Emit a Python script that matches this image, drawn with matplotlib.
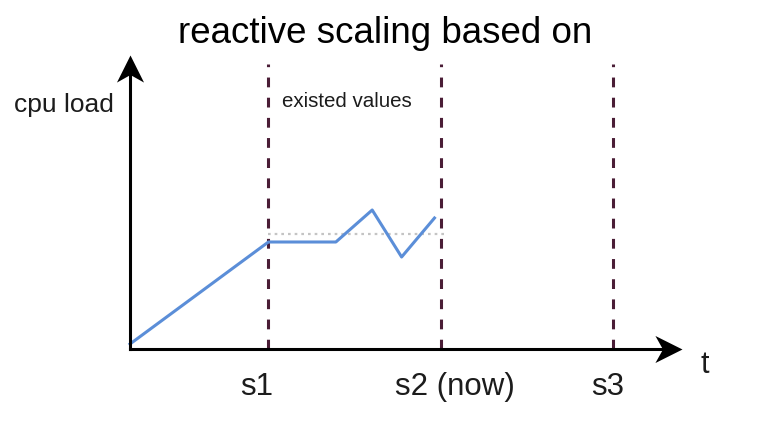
import matplotlib.pyplot as plt
from matplotlib.path import Path

# --[data]----------------------------------------------------------------------
title = 'reactive scaling based on'
y_label = 'cpu load'
x_label = 't'
region_label = 'existed values'

step_names = ['s1', 's2 (now)', 's3']
step_times = [4.0, 9.0, 13.95]

load_times = [0.0, 4.0, 5.95, 7.0, 7.85, 8.8]
load_values = [0.0, 10.2, 10.2, 13.4, 8.7, 12.6]

threshold = 11.0
threshold_span = [4.0, 9.2]

axis_base = -0.5
axis_top = 28.9
axis_end = 15.95
dash_top = 28.0

# --[figure]--------------------------------------------------------------------
plt.rcParams['font.family'] = ['Liberation Sans', 'DejaVu Sans']
fig = plt.figure(figsize=(7.7, 4.39), dpi=100)
ax = fig.add_axes([0, 0, 1, 1])
px = 34.6  # pixels per time unit
ax.set_xlim(-130 / px, (770 - 130) / px)
ax.set_ylim(-(439 - 345) / 10, 345 / 10)
ax.axis('off')

blue = '#5b8ed8'
dash_col = '#4a1d36'
ink = '#1c1c1c'

# dashed step lines
for t in step_times:
    ax.plot([t, t], [axis_base, dash_top], color=dash_col, lw=2.2,
            dashes=(3.2, 3.4), solid_capstyle='butt', zorder=2)

# threshold dotted line
ax.plot(threshold_span, [threshold, threshold], color='#c4c4c4', lw=1.6,
        ls=(0, (1.2, 1.8)), zorder=1)

# cpu load
ax.plot(load_times, load_values, color=blue, lw=2.2, zorder=3)

# axes with stealth arrow heads
head_up = Path([(0, 0), (-0.5, -1), (0, -0.72), (0.5, -1), (0, 0)],
               [Path.MOVETO, Path.LINETO, Path.LINETO, Path.LINETO, Path.CLOSEPOLY])
head_right = Path([(0, 0), (-1, 0.5), (-0.72, 0), (-1, -0.5), (0, 0)],
                  [Path.MOVETO, Path.LINETO, Path.LINETO, Path.LINETO, Path.CLOSEPOLY])
ax.plot([0, 0], [axis_base, axis_top - 1.5], color='black', lw=2.2,
        solid_capstyle='projecting', zorder=4)
ax.plot([0, axis_end - 0.5], [axis_base, axis_base], color='black', lw=2.2,
        solid_capstyle='projecting', zorder=4)
ax.plot([0], [axis_top], marker=head_up, ms=39, color='black', mew=0, zorder=5)
ax.plot([axis_end], [axis_base], marker=head_right, ms=39, color='black', mew=0, zorder=5)

# labels
fig.text(0.5, 1 - 43 / 439, title, ha='center', va='baseline', fontsize=26.5, color='black')
ax.text(-1.9, 23.3, y_label, ha='center', va='baseline', fontsize=19, color=ink)
ax.text(4.4, 23.8, region_label, ha='left', va='baseline', fontsize=14.8, color=ink)
ax.text(16.6, -2.8, x_label, ha='center', va='baseline', fontsize=22, color=ink)
label_shift = [-0.35, 0.4, -0.15]
for name, t, d in zip(step_names, step_times, label_shift):
    ax.text(t + d, -5.0, name, ha='center', va='baseline', fontsize=22.5, color=ink)

fig.savefig('out.png', dpi=100)
